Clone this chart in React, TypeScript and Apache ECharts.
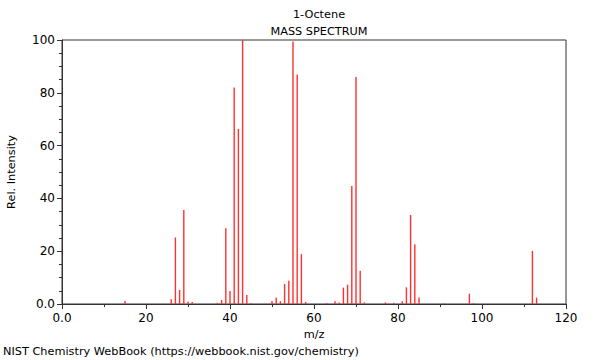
import React, { useEffect, useRef } from "react";
import * as echarts from "echarts";

const mzValues = [15, 26, 27, 28, 29, 30, 31, 37, 38, 39, 40, 41, 42, 43, 44, 45, 50, 51, 52, 53, 54, 55, 56, 57, 58, 63, 65, 66, 67, 68, 69, 70, 71, 72, 77, 79, 81, 82, 83, 84, 85, 91, 97, 98, 112, 113];
const intensities = [1.1, 1.8, 25.2, 5.3, 35.6, 0.9, 0.8, 0.4, 1.5, 28.7, 4.9, 82, 66.3, 100, 3.4, 0.3, 1.1, 2.5, 1.1, 7.6, 8.8, 99.4, 86.9, 18.9, 0.8, 0.3, 1.0, 0.6, 6.2, 7.3, 44.7, 86, 12.6, 0.6, 0.6, 0.5, 1.0, 6.3, 33.7, 22.6, 2.5, 0.2, 3.9, 0.3, 20.1, 2.4];

const chartTitle = "1-Octene";
const chartSubtitle = "MASS SPECTRUM";
const footer = "NIST Chemistry WebBook (https://webbook.nist.gov/chemistry)";

const FONT = "DejaVu Sans";

export default function App() {
  const ref = useRef<HTMLDivElement>(null);
  useEffect(() => {
    if (!ref.current) return;
    const chart = echarts.init(ref.current, null, { renderer: "svg" });
    const axisColor = "#333";
    chart.setOption({
      animation: false,
      backgroundColor: "#fff",
      textStyle: { fontFamily: FONT },
      title: [
        { text: chartTitle, left: 314, top: 4, textAlign: "center", textStyle: { fontFamily: FONT, fontSize: 11.3, fontWeight: "normal", color: "#000" } },
        { text: chartSubtitle, left: 314, top: 21, textAlign: "center", textStyle: { fontFamily: FONT, fontSize: 11.3, fontWeight: "normal", color: "#000" } },
      ],
      graphic: [
        { type: "text", left: 3, top: 346, style: { text: footer, fontFamily: FONT, fontSize: 11.3, fill: "#000" } },
      ],
      grid: { left: 62, right: 34, top: 40, bottom: 56, containLabel: false, outerBoundsMode: "none", show: true, borderColor: axisColor, borderWidth: 1 },
      xAxis: {
        type: "value",
        min: 0,
        max: 120,
        interval: 20,
        name: "m/z",
        nameLocation: "middle",
        nameGap: 24,
        nameTextStyle: { fontFamily: FONT, fontSize: 11.3, color: "#000" },
        axisLine: { show: true, lineStyle: { color: axisColor } },
        axisTick: { show: true, inside: false, length: 5, lineStyle: { color: axisColor } },
        minorTick: { show: true, splitNumber: 2, length: 3, lineStyle: { color: axisColor } },
        splitLine: { show: false },
        axisLabel: { fontFamily: FONT, fontSize: 12, color: "#000", margin: 8, formatter: (v: number) => (v === 0 ? "0.0" : String(v)) },
      },
      yAxis: {
        type: "value",
        min: 0,
        max: 100,
        interval: 20,
        name: "Rel. Intensity",
        nameLocation: "middle",
        nameGap: 45,
        nameTextStyle: { fontFamily: FONT, fontSize: 11.3, color: "#000" },
        axisLine: { show: true, lineStyle: { color: axisColor } },
        axisTick: { show: true, inside: false, length: 5, lineStyle: { color: axisColor } },
        minorTick: { show: true, splitNumber: 4, length: 3, lineStyle: { color: axisColor } },
        splitLine: { show: false },
        axisLabel: { fontFamily: FONT, fontSize: 12, color: "#000", margin: 7, formatter: (v: number) => (v === 0 ? "0.0" : String(v)) },
      },
      series: [
        {
          type: "bar",
          data: mzValues.map((m, i) => [m, intensities[i]]),
          barWidth: 1.4,
          itemStyle: { color: "#ff3030" },
          silent: true,
        },
      ],
    });
    return () => chart.dispose();
  }, []);
  return <div ref={ref} style={{ width: 600, height: 360, position: "absolute", left: 0, top: 0 }} />;
}
